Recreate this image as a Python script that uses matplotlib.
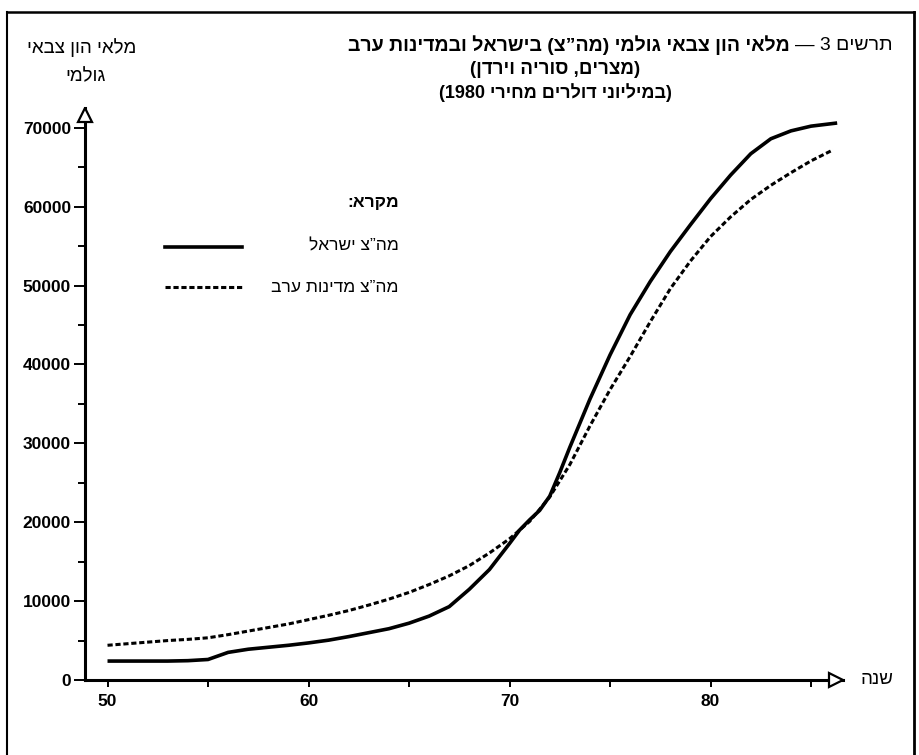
import re
import matplotlib
matplotlib.use('Agg')
import matplotlib.pyplot as plt
from matplotlib.lines import Line2D
from matplotlib.ticker import FixedLocator, MultipleLocator
from matplotlib.transforms import offset_copy

plt.rcParams['font.family'] = ['Liberation Sans', 'DejaVu Sans']

# ---------------- data ----------------
years_israel = [50, 51, 52, 53, 54, 55, 56, 57, 58, 59, 60, 61, 62, 63, 64, 65,
                66, 67, 68, 69, 70, 70.5, 71, 71.5, 72, 72.5, 73, 74, 75, 76, 77,
                78, 79, 80, 81, 82, 83, 84, 85, 86.3]
capital_israel = [2400, 2400, 2400, 2400, 2450, 2600, 3500, 3900, 4150, 4400,
                  4700, 5050, 5500, 6000, 6500, 7200, 8100, 9300, 11500, 14000,
                  17300, 19000, 20300, 21500, 23300, 26300, 29500, 35600, 41200,
                  46300, 50500, 54300, 57700, 61000, 64000, 66700, 68600, 69600,
                  70200, 70600]

years_arab = [50, 51, 52, 53, 54, 55, 56, 57, 58, 59, 60, 61, 62, 63, 64, 65,
              66, 67, 68, 69, 70, 71, 72, 73, 74, 75, 76, 77, 78, 79, 80, 81,
              82, 83, 84, 85, 86.1]
capital_arab = [4400, 4600, 4800, 5000, 5150, 5350, 5750, 6200, 6650, 7100,
                7650, 8200, 8800, 9500, 10250, 11100, 12100, 13200, 14500, 16100,
                17900, 20100, 23200, 27300, 32200, 36800, 41000, 45400, 49600,
                53100, 56200, 58700, 60900, 62700, 64300, 65800, 67200]

x_ticks = [50, 60, 70, 80]
x_tick_labels = ['50', '60', '70', '80']
y_ticks = [0, 10000, 20000, 30000, 40000, 50000, 60000, 70000]
y_tick_labels = ['0', '10000', '20000', '30000', '40000', '50000', '60000', '70000']

title_prefix = "תרשים 3 —"
title_main = "מלאי הון צבאי גולמי (מה”צ) בישראל ובמדינות ערב"
title_line2 = "(מצרים, סוריה וירדן)"
title_line3 = "(במיליוני דולרים מחירי 1980)"
ylabel_line1 = "מלאי הון צבאי"
ylabel_line2 = "גולמי"
xlabel = "שנה"
legend_title = "מקרא:"
label_israel = "מה”צ ישראל"
label_arab = "מה”צ מדינות ערב"


def rtl(s):
    """Convert logical-order Hebrew text to visual order for LTR rendering."""
    r = s[::-1]
    r = r.translate(str.maketrans('()', ')('))
    r = re.sub(r'\d+', lambda m: m.group(0)[::-1], r)
    return r


W, H = 920, 755
fig = plt.figure(figsize=(W / 100, H / 100), dpi=100)
fig.patch.set_facecolor('white')


def fx(px):
    return px / W


def fy(py):
    return 1 - py / H


AX_L, AX_R, AX_B, AX_T = 85, 843, 680, 108
ax = fig.add_axes([fx(AX_L), fy(AX_B), fx(AX_R) - fx(AX_L), fy(AX_T) - fy(AX_B)])
ax.set_xlim(48.88, 86.59)
ax.set_ylim(0, 72500)

DASH = (0, (1.7, 0.9))

# lines
ax.plot(years_israel, capital_israel, color='black', lw=2.6,
        solid_joinstyle='round', solid_capstyle='butt', zorder=3)
ax.plot(years_arab, capital_arab, color='black', lw=2.2,
        linestyle=DASH, zorder=3)

# spines
for s in ['top', 'right']:
    ax.spines[s].set_visible(False)
for s in ['left', 'bottom']:
    ax.spines[s].set_linewidth(2.2)
    ax.spines[s].set_color('black')

# arrow heads
ax.plot([0], [1], marker='^', ms=10, mfc='white', mec='black', mew=1.6,
        transform=offset_copy(ax.transAxes, fig=fig, x=0, y=-5, units='points'),
        clip_on=False, zorder=6)
ax.plot([1], [0], marker='>', ms=10, mfc='white', mec='black', mew=1.6,
        transform=offset_copy(ax.transAxes, fig=fig, x=-5, y=0, units='points'),
        clip_on=False, zorder=6)

# ticks
ax.yaxis.set_major_locator(FixedLocator(y_ticks))
ax.set_yticklabels(y_tick_labels)
ax.yaxis.set_minor_locator(MultipleLocator(5000))
ax.xaxis.set_major_locator(FixedLocator(x_ticks))
ax.set_xticklabels(x_tick_labels)
ax.xaxis.set_minor_locator(MultipleLocator(5))
ax.tick_params(axis='y', which='major', direction='out', length=8, width=1.4,
               labelsize=12.5, pad=2)
ax.tick_params(axis='y', which='minor', direction='out', length=5, width=1.4)
ax.tick_params(axis='x', which='both', direction='out', length=5, width=1.4,
               labelsize=12.5, pad=5)
for lab in ax.get_xticklabels() + ax.get_yticklabels():
    lab.set_fontweight('bold')

# x label
fig.text(fx(861), fy(680), rtl(xlabel), ha='left', va='center', fontsize=13.5)

# y label
fig.text(fx(82), fy(48), rtl(ylabel_line1), ha='center', va='center', fontsize=13.5)
fig.text(fx(86), fy(77), rtl(ylabel_line2), ha='center', va='center', fontsize=13.5)

# title
t_pre = fig.text(fx(893), fy(45), rtl(title_prefix), ha='right', va='center',
                 fontsize=14)
ax.annotate(rtl(title_main), xy=(0, 0.5), xycoords=t_pre, xytext=(-4, 0),
            textcoords='offset points', ha='right', va='center',
            fontsize=14, fontweight='bold', annotation_clip=False)
fig.text(fx(555), fy(69), rtl(title_line2), ha='center', va='center',
         fontsize=13.5, fontweight='bold')
fig.text(fx(555), fy(93), rtl(title_line3), ha='center', va='center',
         fontsize=13, fontweight='bold')

# legend (manual)
fig.text(fx(399), fy(203), rtl(legend_title), ha='right', va='center',
         fontsize=12.5, fontweight='bold')
fig.text(fx(399), fy(246), rtl(label_israel), ha='right', va='center',
         fontsize=12.5)
fig.text(fx(399), fy(287), rtl(label_arab), ha='right', va='center',
         fontsize=12.5)
fig.add_artist(Line2D([fx(165), fx(242)], [fy(247), fy(247)], color='black',
                      lw=2.6, transform=fig.transFigure))
fig.add_artist(Line2D([fx(165), fx(242)], [fy(287), fy(287)], color='black',
                      lw=2.2, linestyle=DASH, transform=fig.transFigure))

# page frame
fig.add_artist(Line2D([fx(7), fx(7)], [fy(12), fy(760)], color='black', lw=1.5,
                      transform=fig.transFigure))
fig.add_artist(Line2D([fx(7), fx(914)], [fy(12), fy(12)], color='black', lw=1.8,
                      transform=fig.transFigure))
fig.add_artist(Line2D([fx(914), fx(914)], [fy(12), fy(760)], color='black',
                      lw=2.0, transform=fig.transFigure))

fig.savefig('out.png', dpi=100, facecolor='white')
